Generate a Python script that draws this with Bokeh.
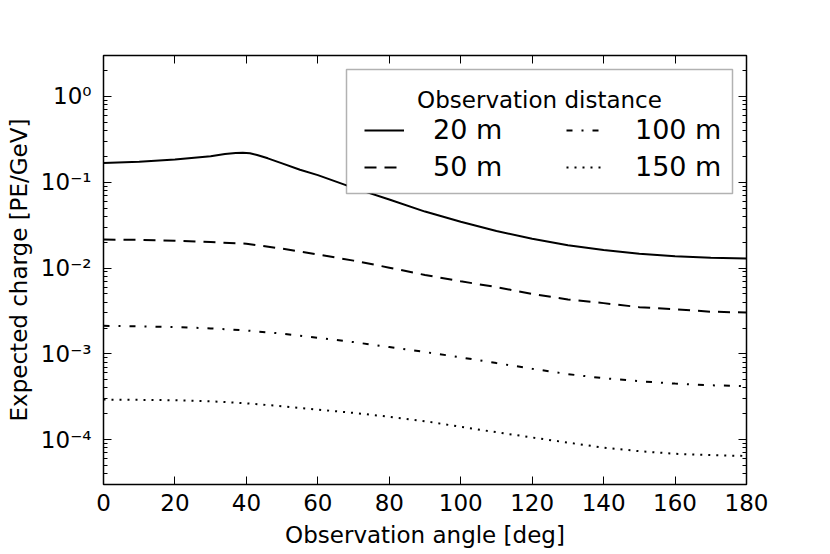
from bokeh.plotting import figure
from bokeh.models import (Range1d, FixedTicker, LinearAxis, LogAxis, CustomJSTickFormatter,
                          Legend, LegendItem, BoxAnnotation, Label)
from bokeh.embed import file_html
from bokeh.resources import INLINE

# ---- data ----
angle_20 = [0, 10, 20, 30, 34, 37, 39, 41, 43, 46, 50, 55, 60, 70, 80, 90, 100, 110, 120, 130, 140, 150, 160, 170, 180]
charge_20 = [0.168, 0.173, 0.184, 0.201, 0.213, 0.219, 0.2205, 0.218, 0.208, 0.190, 0.166, 0.140, 0.121, 0.086,
             0.063, 0.0455, 0.0347, 0.027, 0.0219, 0.0184, 0.0162, 0.0147, 0.0137, 0.0132, 0.0129]

angles = [0, 10, 20, 30, 40, 50, 60, 70, 80, 90, 100, 110, 120, 130, 140, 150, 160, 170, 180]
charge_50 = [0.0215, 0.0213, 0.0208, 0.0201, 0.0192, 0.0168, 0.0144, 0.0122, 0.0101, 0.0083, 0.0070, 0.0060,
             0.0050, 0.0043, 0.0039, 0.0035, 0.0033, 0.0031, 0.00303]
charge_100 = [0.00212, 0.00209, 0.00205, 0.00198, 0.00187, 0.00172, 0.00154, 0.00137, 0.00120, 0.00105, 0.00091,
              0.00078, 0.00067, 0.00058, 0.00052, 0.00048, 0.00045, 0.00043, 0.00042]
charge_150 = [0.000293, 0.000291, 0.000288, 0.000280, 0.000265, 0.000245, 0.000224, 0.000205, 0.000185, 0.000164,
              0.000141, 0.000122, 0.000106, 0.0000922, 0.0000807, 0.0000733, 0.0000684, 0.000066, 0.0000645]

labels = ["20 m", "50 m", "100 m", "150 m"]
legend_title = "Observation distance"
x_ticks = [0, 20, 40, 60, 80, 100, 120, 140, 160, 180]
y_decades = [1e-4, 1e-3, 1e-2, 1e-1, 1e0]

FONT = "DejaVu Sans"

p = figure(frame_width=643, frame_height=429,
           x_range=Range1d(0, 180), y_range=Range1d(3e-5, 3),
           y_axis_type="log", output_backend="svg", toolbar_location=None,
           min_border_left=103, min_border_right=68, min_border_top=55, min_border_bottom=40)
p.xgrid.visible = False
p.ygrid.visible = False
p.outline_line_color = "black"
p.outline_line_width = 1.5
p.background_fill_color = "white"
p.border_fill_color = "white"

minor = [m * d for d in [1e-5, 1e-4, 1e-3, 1e-2, 1e-1, 1e0] for m in range(2, 10)]
xticker = FixedTicker(ticks=x_ticks)
yticker = FixedTicker(ticks=y_decades, minor_ticks=minor)

sup_fmt = CustomJSTickFormatter(code="""
const sup = {'-':'\u207b','0':'\u2070','1':'\u00b9','2':'\u00b2','3':'\u00b3','4':'\u2074',
             '5':'\u2075','6':'\u2076','7':'\u2077','8':'\u2078','9':'\u2079'};
const e = Math.round(Math.log10(tick));
return '10' + String(e).split('').map(c => sup[c]).join('');
""")
blank_fmt = CustomJSTickFormatter(code="return '';")

def style_axis(ax, minor_on):
    ax.axis_line_color = None
    ax.major_tick_in = 8
    ax.major_tick_out = 0
    ax.major_tick_line_width = 1
    ax.major_tick_line_color = "black"
    if minor_on:
        ax.minor_tick_in = 4
        ax.minor_tick_out = 0
        ax.minor_tick_line_color = "black"
    else:
        ax.minor_tick_line_color = None
    ax.major_label_text_font = FONT
    ax.major_label_text_font_size = "23px"
    ax.major_label_text_color = "black"
    ax.axis_label_text_font = FONT
    ax.axis_label_text_font_size = "23px"
    ax.axis_label_text_font_style = "normal"
    ax.axis_label_text_color = "black"

xa = p.xaxis[0]
xa.ticker = xticker
style_axis(xa, False)
xa.major_label_standoff = 9
xa.axis_label = "Observation angle [deg]"
xa.axis_label_standoff = 8

ya = p.yaxis[0]
ya.ticker = yticker
ya.formatter = sup_fmt
style_axis(ya, True)
ya.major_label_standoff = 12
ya.axis_label = "Expected charge [PE/GeV]"
ya.axis_label_standoff = 6

top = LinearAxis(ticker=xticker, formatter=blank_fmt)
style_axis(top, False)
top.major_label_text_font_size = "1px"
p.add_layout(top, "above")
right = LogAxis(ticker=yticker, formatter=blank_fmt)
style_axis(right, True)
right.major_label_text_font_size = "1px"
p.add_layout(right, "right")

r20 = p.line(angle_20, charge_20, line_color="black", line_width=2)
r50 = p.line(angles, charge_50, line_color="black", line_width=2, line_dash="12 8")
r100 = p.line(angles, charge_100, line_color="black", line_width=2, line_dash="6 9 2 9")
r150 = p.line(angles, charge_150, line_color="black", line_width=2, line_dash="2 6")

# legend frame (screen units, relative to the plot frame)
box = BoxAnnotation(left=243, right=629, top=415, bottom=291,
                    left_units="screen", right_units="screen", top_units="screen", bottom_units="screen",
                    fill_color="white", fill_alpha=1.0, line_color="black", line_width=1.5)
p.add_layout(box)

common = dict(label_text_font=FONT, label_text_font_size="27px", label_text_color="black",
              glyph_width=40, label_standoff=29, padding=0, spacing=6, margin=0,
              border_line_color=None, background_fill_alpha=0.0)
leg1 = Legend(items=[LegendItem(label=labels[0], renderers=[r20]),
                     LegendItem(label=labels[1], renderers=[r50])],
              location=(261, 302), **common)
leg2 = Legend(items=[LegendItem(label=labels[2], renderers=[r100]),
                     LegendItem(label=labels[3], renderers=[r150])],
              location=(463, 302), **common)
p.add_layout(leg1)
p.add_layout(leg2)

title = Label(x=436, y=385, x_units="screen", y_units="screen", text=legend_title,
              text_align="center", text_baseline="alphabetic",
              text_font=FONT, text_font_size="23px", text_color="black")
p.add_layout(title)

open("out.html", "w").write(file_html(p, INLINE))
